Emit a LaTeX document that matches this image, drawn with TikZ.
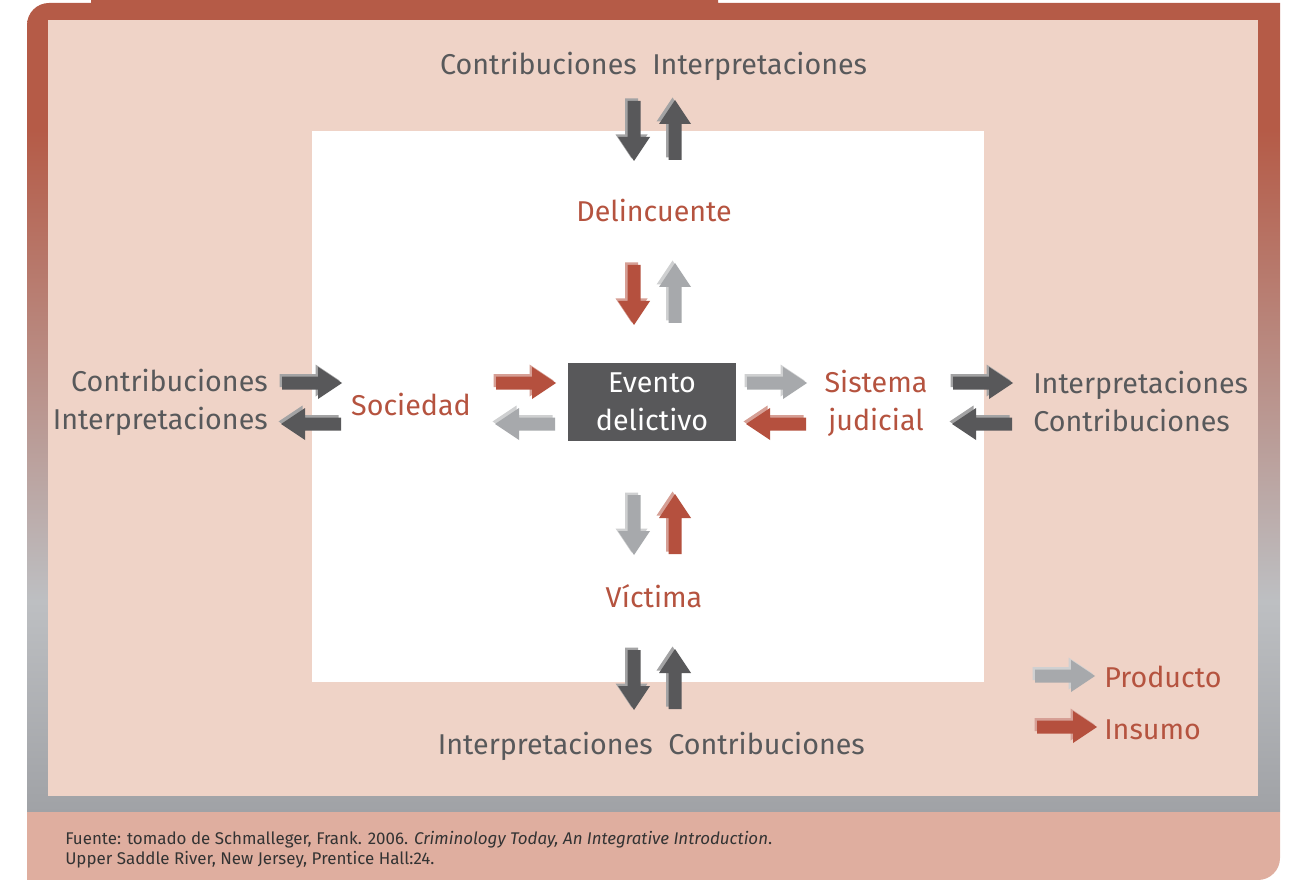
\documentclass[tikz,border=0pt]{standalone}
\usepackage{fontspec}
\setmainfont{Fira Sans}
\usetikzlibrary{positioning}

\definecolor{framered}{HTML}{B55B47}
\definecolor{framegray}{HTML}{BDBFC2}
\definecolor{framedark}{HTML}{A0A2A6}
\definecolor{bgpink}{HTML}{EFD3C7}
\definecolor{footpink}{HTML}{DFAE9F}
\definecolor{txtgray}{HTML}{58595B}
\definecolor{txtred}{HTML}{B5533F}
\definecolor{boxgray}{HTML}{58585A}
\definecolor{arrgray}{HTML}{A7A9AC}
\definecolor{arrred}{HTML}{B5503E}
\pgfdeclareverticalshading{framegrad}{100bp}{color(0bp)=(framedark); color(25bp)=(framedark); color(38bp)=(framegray); color(67bp)=(framered); color(100bp)=(framered)}

\begin{document}
\begin{tikzpicture}[x=0.75pt, y=-0.75pt,
    lbl/.style={text=txtgray, inner sep=0pt, font=\fontsize{21.5}{28.5}\selectfont},
    redlbl/.style={lbl, text=txtred, align=center},
    evbox/.style={fill=boxgray, text=white, align=center, inner sep=0pt,
        minimum width=126pt, minimum height=58.5pt, font=\fontsize{21.5}{28.5}\selectfont},
    caption/.style={text=black!80, inner sep=0pt, anchor=base west, font=\fontsize{12.7}{15}\selectfont}]
\useasboundingbox (0,0) rectangle (1291,880);

% FRAME
\shade[shading=framegrad] (27,812) -- (27,25) arc[start angle=180, end angle=270, radius=22]
    -- (91,3) -- (91,0) -- (718,0) -- (718,3) -- (1280,3) -- (1280,812) -- cycle;
\fill[footpink] (27,812) -- (1280,812) -- (1280,858) arc[start angle=0, end angle=90, radius=22]
    -- (27,880) -- cycle;
\fill[bgpink] (48,20) rectangle (1258,796);
\fill[white] (312,131) rectangle (984,682);

% CENTRE
\node[evbox] (evento) at (652,402) {Evento\\delictivo};
\node[redlbl, anchor=base] (delinc) at (654,222) {Delincuente};
\node[redlbl, anchor=base] (victima) at (654,607) {Víctima};
\node[redlbl, anchor=base] (sociedad) at (411,415) {Sociedad};
\node[redlbl] (sistema) at (876,403) {Sistema\\judicial};

% OUTER LABELS
\node[lbl, anchor=base east] (topc) at (637,75) {Contribuciones};
\node[lbl, anchor=base west] (topi) at (652,75) {Interpretaciones};
\node[lbl, anchor=base east] (boti) at (653,754) {Interpretaciones};
\node[lbl, anchor=base west] (botc) at (668,754) {Contribuciones};
\node[lbl, anchor=base east] (leftc) at (268,391) {Contribuciones};
\node[lbl, anchor=base east] (lefti) at (268,429) {Interpretaciones};
\node[lbl, anchor=base west] (righti) at (1033,393) {Interpretaciones};
\node[lbl, anchor=base west] (rightc) at (1033,431) {Contribuciones};

% LEGEND
\node[redlbl, anchor=base west] (producto) at (1104,687) {Producto};
\node[redlbl, anchor=base west] (insumo) at (1104,739) {Insumo};

% block arrows: x/y/rotation/colour
\foreach \ax/\ay/\rot/\col in {634/131/-90/boxgray, 675/130/90/boxgray,
    634/295/-90/arrred, 675/293/90/arrgray,
    634/525/-90/arrgray, 675/524/90/arrred,
    634/680/-90/boxgray, 675/679/90/boxgray,
    312/383/0/boxgray, 311/424/180/boxgray,
    526/383/0/arrred, 525/424/180/arrgray,
    777/383/0/arrgray, 776/424/180/arrred,
    983/383/0/boxgray, 982/424/180/boxgray,
    1065/676/0/arrgray, 1067/727/0/arrred}{
\fill[\col!55!white, shift={(\ax,\ay)}, shift={(-2.5,-2.5)}, rotate=\rot]
    (-30,-6.5) -- (6,-6.5) -- (6,-16) -- (30,0) -- (6,16) -- (6,6.5) -- (-30,6.5) -- cycle;
\fill[\col, shift={(\ax,\ay)}, rotate=\rot]
    (-30,-6.5) -- (6,-6.5) -- (6,-16) -- (30,0) -- (6,16) -- (6,6.5) -- (-30,6.5) -- cycle;
}

% SOURCE
\node[caption] (fuente) at (65,844) {Fuente: tomado de Schmalleger, Frank. 2006. \textit{Criminology Today, An Integrative Introduction}.};
\node[caption] (fuente2) at (65,864) {Upper Saddle River, New Jersey, Prentice Hall:24.};

\end{tikzpicture}
\end{document}
